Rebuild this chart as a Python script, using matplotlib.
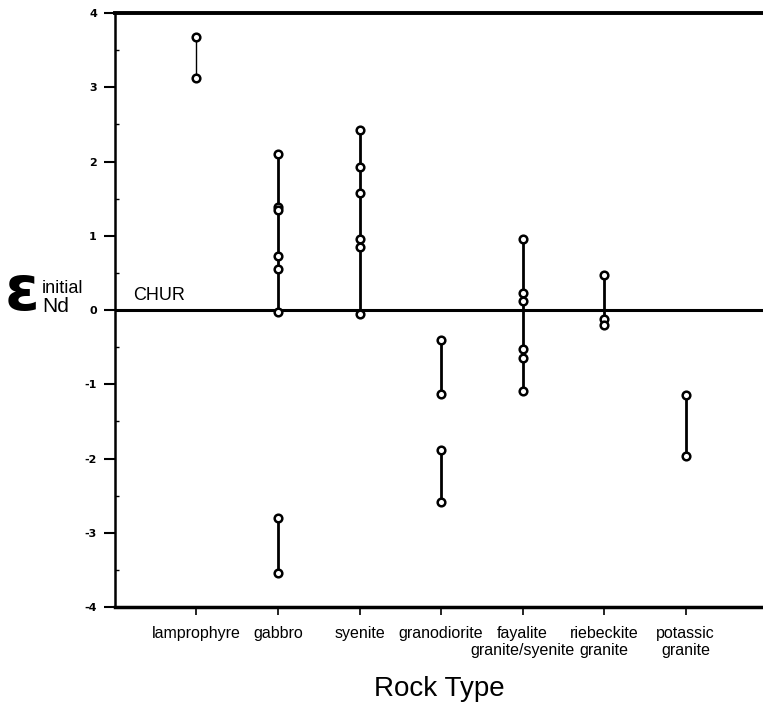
import matplotlib
matplotlib.use('Agg')
import matplotlib.pyplot as plt
import matplotlib.transforms as mtransforms
from matplotlib.ticker import MultipleLocator

plt.rcParams['axes.unicode_minus'] = False

# rock types along the x axis (first and second label lines)
categories = ['lamprophyre', 'gabbro', 'syenite', 'granodiorite',
              'fayalite', 'riebeckite', 'potassic']
categories_2nd = ['', '', '', '', 'granite/syenite', 'granite', 'granite']

# epsilon Nd (initial) values, one list per connected group of samples
lamprophyre = [[3.68, 3.13]]
gabbro = [[2.10, 1.39, 1.35, 0.73, 0.55, -0.02], [-2.80, -3.54]]
syenite = [[2.42, 1.92, 1.58, 0.96, 0.85, -0.05]]
granodiorite = [[-0.41, -1.13], [-1.88, -2.58]]
fayalite = [[0.96, 0.23, 0.12, -0.53, -0.64, -1.09]]
riebeckite = [[0.47, -0.12, -0.20]]
potassic = [[-1.15, -1.97]]

groups = [lamprophyre, gabbro, syenite, granodiorite, fayalite, riebeckite, potassic]
line_widths = [1.0, 2.0, 2.0, 2.0, 2.0, 2.0, 2.0]

fig = plt.figure(figsize=(7.63, 7.15), dpi=100)
ax = fig.add_axes([0.1507, 0.151, 0.8493, 0.8308])

for i, (segs, lw) in enumerate(zip(groups, line_widths), start=1):
    for seg in segs:
        ax.plot([i] * len(seg), seg, color='black', lw=lw, zorder=2)
        ax.plot([i] * len(seg), seg, 'o', ms=5.5, mfc='white', mec='black',
                mew=1.8, zorder=3)

# CHUR reference line
ax.axhline(0, color='black', lw=2.2, zorder=1)
ax.text(0.22, 0.08, 'CHUR', fontsize=13, ha='left', va='bottom',
        family='Liberation Sans')

ax.set_xlim(0, 7.95)
ax.set_ylim(-4, 4)
ax.set_xticks(range(1, 8))
ax.set_xticklabels(categories, fontsize=11.5, family='Liberation Sans')
ax.yaxis.set_major_locator(MultipleLocator(1))
ax.yaxis.set_minor_locator(MultipleLocator(0.5))
ax.tick_params(axis='y', which='major', direction='out', length=8, width=1.5,
               labelsize=8, pad=5)
ax.tick_params(axis='y', which='minor', direction='in', length=3, width=1)
ax.tick_params(axis='x', which='major', direction='out', length=6, width=1.2,
               pad=8)
for lab in ax.get_yticklabels():
    lab.set_fontweight('bold')

# second lines of the two-line category labels
trans = mtransforms.blended_transform_factory(ax.transData, fig.transFigure)
for i, txt in enumerate(categories_2nd, start=1):
    if txt:
        ax.text(i, 1 - 651 / 715, txt, transform=trans, fontsize=11.5,
                ha='center', va='center', family='Liberation Sans')

ax.spines['right'].set_visible(False)
ax.spines['top'].set_linewidth(2.8)
ax.spines['left'].set_linewidth(1.8)
ax.spines['bottom'].set_linewidth(2.5)

# y label: epsilon Nd initial
fig.text(0.006, 0.590, 'ε', fontsize=45, fontweight='bold', ha='left',
         va='center', family='DejaVu Sans')
fig.text(0.055, 0.596, 'initial', fontsize=13, ha='left', va='center',
         family='Liberation Sans')
fig.text(0.055, 0.572, 'Nd', fontsize=15, ha='left', va='center',
         family='Liberation Sans')

fig.text(0.5755, 0.037, 'Rock Type', fontsize=20, ha='center', va='center',
         family='Liberation Sans')

fig.savefig('out.png', dpi=100)
